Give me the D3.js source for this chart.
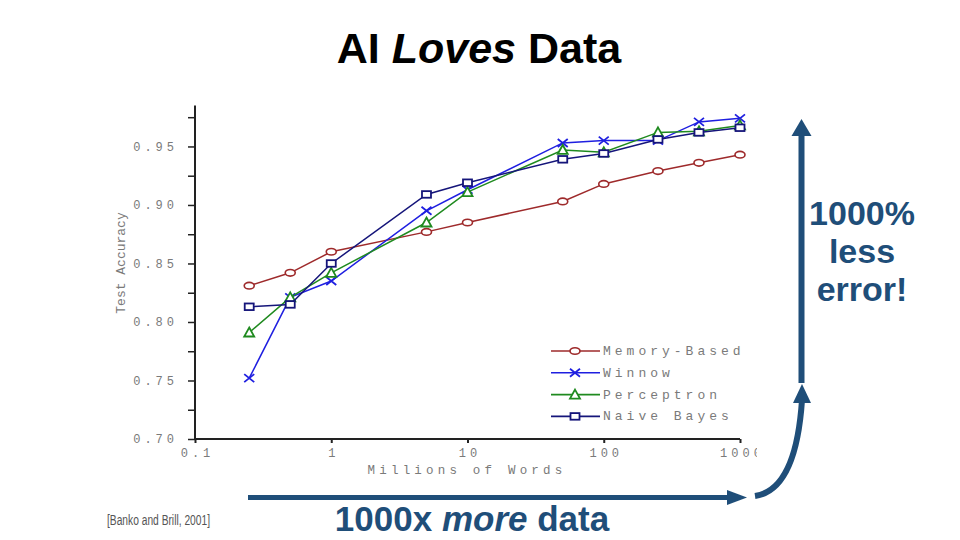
<!DOCTYPE html>
<html>
<head>
<meta charset="utf-8">
<script src="https://cdn.jsdelivr.net/npm/d3@7"></script>
<style>
  body { margin: 0; background: #fff; }
  svg { display: block; }
</style>
</head>
<body>
<svg width="960" height="540"></svg>
<script>
// millions of words used for training
var words = [0.25, 0.5, 1, 5, 10, 50, 100, 250, 500, 1000];

var memoryBased = [0.831, 0.842, 0.860, 0.877, 0.885, 0.903, 0.918, 0.929, 0.936, 0.943];
var winnow      = [0.752, 0.821, 0.835, 0.895, 0.913, 0.953, 0.955, 0.955, 0.971, 0.974];
var perceptron  = [0.791, 0.821, 0.842, 0.885, 0.911, 0.947, 0.945, 0.962, 0.963, 0.968];
var naiveBayes  = [0.813, 0.815, 0.850, 0.909, 0.919, 0.939, 0.944, 0.956, 0.962, 0.966];

var seriesNames = ["Memory-Based", "Winnow", "Perceptron", "Naive Bayes"];
var xTicks = [0.1, 1, 10, 100, 1000];
var yTicks = [0.70, 0.75, 0.80, 0.85, 0.90, 0.95];
var yMinorTicks = [0.725, 0.775, 0.825, 0.875, 0.925, 0.975];

var svg = d3.select("svg");

var colors = ["#9e2a2b", "#1f1fe0", "#1f8a1f", "#15157a"];
var shapes = ["ellipse", "cross", "triangle", "square"];
var values = [memoryBased, winnow, perceptron, naiveBayes];

var series = seriesNames.map(function(name, i) {
  return {
    name: name,
    color: colors[i],
    shape: shapes[i],
    points: words.map(function(w, j) { return {x: w, y: values[i][j]}; })
  };
});

var x = d3.scaleLog().domain([0.1, 1000]).range([195, 740]);
var y = d3.scaleLinear().domain([0.70, 0.985]).range([439, 105.5]);

var monoFont = "'Liberation Mono', 'DejaVu Sans Mono', monospace";
var grey = "#7a7a7a";

// title
var title = svg.append("text")
    .attr("x", 479)
    .attr("y", 63)
    .attr("text-anchor", "middle")
    .style("font-family", "'Liberation Sans', Arial, sans-serif")
    .style("font-size", "43px")
    .style("font-weight", "bold")
    .attr("fill", "#000");
title.append("tspan").text("AI ");
title.append("tspan").style("font-style", "italic").text("Loves");
title.append("tspan").text(" Data");

// chart, clipped like the pasted picture
svg.append("clipPath").attr("id", "pic")
  .append("rect").attr("x", 100).attr("y", 100).attr("width", 657).attr("height", 380);

var chart = svg.append("g").attr("clip-path", "url(#pic)");

// y axis
var yAxis = chart.append("g")
    .attr("transform", "translate(195,0)")
    .call(d3.axisLeft(y).tickValues(yTicks.concat(yMinorTicks)).tickSize(7).tickPadding(10)
      .tickFormat(function(d) { return yTicks.indexOf(d) >= 0 ? d3.format(".2f")(d) : ""; }));
yAxis.select(".domain").attr("d", "M0," + y(0.985) + "V" + y(0.70)).attr("stroke", "#222").attr("stroke-width", 2);
yAxis.selectAll(".tick line").attr("stroke", "#222").attr("stroke-width", 1.5);
yAxis.selectAll(".tick text")
    .attr("fill", grey)
    .style("font-family", monoFont)
    .style("font-size", "12px")
    .style("letter-spacing", "4px");

// x axis
var xAxis = chart.append("g")
    .attr("transform", "translate(0,439)")
    .call(d3.axisBottom(x).tickValues(xTicks).tickSize(4).tickPadding(5)
      .tickFormat(function(d) { return d3.format("~g")(d); }));
xAxis.select(".domain").attr("d", "M" + x(0.1) + ",0H" + x(1000)).attr("stroke", "#222").attr("stroke-width", 2);
xAxis.selectAll(".tick line").attr("stroke", "#222").attr("stroke-width", 2);
xAxis.selectAll(".tick text")
    .attr("fill", grey)
    .attr("dx", "2px")
    .style("font-family", monoFont)
    .style("font-size", "12px")
    .style("letter-spacing", "4px");

chart.append("text")
    .attr("x", 467)
    .attr("y", 474)
    .attr("text-anchor", "middle")
    .attr("fill", grey)
    .style("font-family", monoFont)
    .style("font-size", "12.5px")
    .style("letter-spacing", "4.2px")
    .text("Millions of Words");

chart.append("text")
    .attr("transform", "translate(125,263) rotate(-90)")
    .attr("text-anchor", "middle")
    .attr("fill", grey)
    .style("font-family", monoFont)
    .style("font-size", "13px")
    .text("Test Accuracy");

// markers
function drawMarker(g, shape, color) {
  if (shape === "ellipse") {
    g.append("ellipse").attr("rx", 5).attr("ry", 3.3)
      .attr("fill", "#fff").attr("stroke", color).attr("stroke-width", 1.6);
  } else if (shape === "cross") {
    g.append("path").attr("d", "M-5,-4L5,4M-5,4L5,-4")
      .attr("fill", "none").attr("stroke", color).attr("stroke-width", 1.8);
  } else if (shape === "triangle") {
    g.append("path").attr("d", "M0,-5L5,4L-5,4Z")
      .attr("fill", "#fff").attr("stroke", color).attr("stroke-width", 1.8);
  } else {
    g.append("rect").attr("x", -4.5).attr("y", -3.3).attr("width", 9).attr("height", 6.6)
      .attr("fill", "#fff").attr("stroke", color).attr("stroke-width", 1.8);
  }
}

var line = d3.line()
    .x(function(d) { return x(d.x); })
    .y(function(d) { return y(d.y); });

var sg = chart.selectAll(".series")
    .data(series)
    .enter().append("g")
    .attr("class", "series");

sg.append("path")
    .attr("d", function(d) { return line(d.points); })
    .attr("fill", "none")
    .attr("stroke", function(d) { return d.color; })
    .attr("stroke-width", 1.5);

sg.each(function(s) {
  d3.select(this).selectAll(".mark")
    .data(s.points)
    .enter().append("g")
    .attr("class", "mark")
    .attr("transform", function(d) { return "translate(" + x(d.x) + "," + y(d.y) + ")"; })
    .each(function() { drawMarker(d3.select(this), s.shape, s.color); });
});

// legend
var legend = chart.append("g").attr("transform", "translate(551,351)");
var item = legend.selectAll("g")
    .data(series)
    .enter().append("g")
    .attr("transform", function(d, i) { return "translate(0," + (i * 21.8) + ")"; });

item.append("line")
    .attr("x1", 0).attr("x2", 49)
    .attr("stroke", function(d) { return d.color; })
    .attr("stroke-width", 1.6);
item.append("g")
    .attr("transform", "translate(24,0)")
    .each(function(d) { drawMarker(d3.select(this), d.shape, d.color); });
item.append("text")
    .attr("x", 52)
    .attr("y", 4)
    .attr("fill", grey)
    .style("font-family", monoFont)
    .style("font-size", "13px")
    .style("letter-spacing", "4px")
    .text(function(d) { return d.name; });

// annotations
var navy = "#1f4e79";
var sans = "'Liberation Sans', Arial, sans-serif";

// horizontal arrow
svg.append("line")
    .attr("x1", 248).attr("y1", 497.5).attr("x2", 730).attr("y2", 497.5)
    .attr("stroke", navy).attr("stroke-width", 5);
svg.append("path")
    .attr("d", "M747,497.5L727,490L727,505Z")
    .attr("fill", navy);

// curved arrow
svg.append("path")
    .attr("d", "M755,496Q796,490 802,400")
    .attr("fill", "none")
    .attr("stroke", navy).attr("stroke-width", 6);
svg.append("path")
    .attr("d", "M802,384L811,403L793,403Z")
    .attr("fill", navy);

// vertical arrow
svg.append("line")
    .attr("x1", 801.5).attr("y1", 383).attr("x2", 801.5).attr("y2", 134)
    .attr("stroke", navy).attr("stroke-width", 6);
svg.append("path")
    .attr("d", "M801.5,119L811.5,136L791.5,136Z")
    .attr("fill", navy);

var errText = svg.append("text")
    .attr("text-anchor", "middle")
    .attr("fill", navy)
    .style("font-family", sans)
    .style("font-size", "34px")
    .style("font-weight", "bold");
["1000%", "less", "error!"].forEach(function(t, i) {
  errText.append("tspan").attr("x", 862).attr("y", 225 + i * 38).text(t);
});

var moreText = svg.append("text")
    .attr("x", 472)
    .attr("y", 531)
    .attr("text-anchor", "middle")
    .attr("fill", navy)
    .style("font-family", sans)
    .style("font-size", "35px")
    .style("font-weight", "bold");
moreText.append("tspan").text("1000x ");
moreText.append("tspan").style("font-style", "italic").text("more");
moreText.append("tspan").text(" data");

svg.append("text")
    .attr("x", 107)
    .attr("y", 525)
    .attr("fill", "#555")
    .attr("textLength", 103)
    .attr("lengthAdjust", "spacingAndGlyphs")
    .style("font-family", sans)
    .style("font-size", "14px")
    .text("[Banko and Brill, 2001]");
</script>
</body>
</html>
